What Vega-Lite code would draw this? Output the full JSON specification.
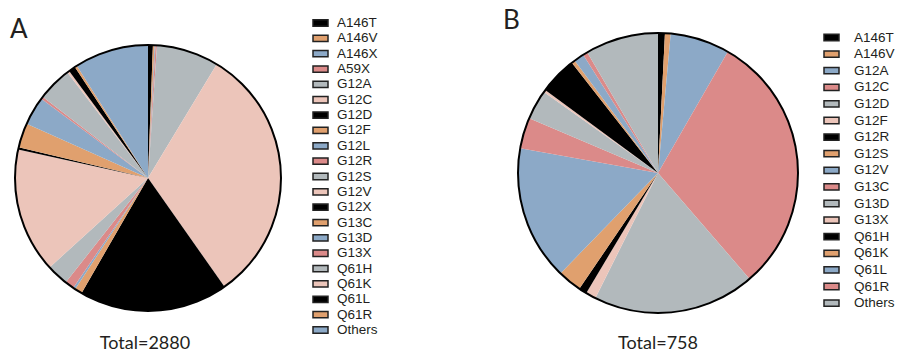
{
  "$schema": "https://vega.github.io/schema/vega-lite/v6.json",
  "padding": {"left": 10, "top": 8, "right": 0, "bottom": 0},
  "bounds": "flush",
  "spacing": 503,
  "config": {"view": {"stroke": null}, "font": "Liberation Sans"},
  "resolve": {"scale": {"color": "independent", "theta": "independent"}, "legend": {"color": "independent"}},
  "datasets": {
    "panelA": [
      {"mutation": "A146T", "count": 17},
      {"mutation": "A146V", "count": 6},
      {"mutation": "A146X", "count": 3},
      {"mutation": "A59X", "count": 5},
      {"mutation": "G12A", "count": 218},
      {"mutation": "G12C", "count": 910},
      {"mutation": "G12D", "count": 521},
      {"mutation": "G12F", "count": 26},
      {"mutation": "G12L", "count": 8},
      {"mutation": "G12R", "count": 32},
      {"mutation": "G12S", "count": 76},
      {"mutation": "G12V", "count": 437},
      {"mutation": "G12X", "count": 8},
      {"mutation": "G13C", "count": 86},
      {"mutation": "G13D", "count": 100},
      {"mutation": "G13X", "count": 8},
      {"mutation": "Q61H", "count": 120},
      {"mutation": "Q61K", "count": 8},
      {"mutation": "Q61L", "count": 24},
      {"mutation": "Q61R", "count": 8},
      {"mutation": "Others", "count": 259}
    ],
    "panelB": [
      {"mutation": "A146T", "count": 6},
      {"mutation": "A146V", "count": 5},
      {"mutation": "G12A", "count": 52},
      {"mutation": "G12C", "count": 230},
      {"mutation": "G12D", "count": 142},
      {"mutation": "G12F", "count": 9},
      {"mutation": "G12R", "count": 7},
      {"mutation": "G12S", "count": 21},
      {"mutation": "G12V", "count": 118},
      {"mutation": "G13C", "count": 27},
      {"mutation": "G13D", "count": 26},
      {"mutation": "G13X", "count": 2},
      {"mutation": "Q61H", "count": 33},
      {"mutation": "Q61K", "count": 3},
      {"mutation": "Q61L", "count": 9},
      {"mutation": "Q61R", "count": 4},
      {"mutation": "Others", "count": 64}
    ]
  },
  "hconcat": [
    {
      "title": {"text": "A", "anchor": "start", "frame": "group", "orient": "top", "baseline": "alphabetic", "offset": -54, "dx": -5, "fontSize": 26, "fontWeight": "normal", "font": "Lato", "color": "#231f20"},
      "bounds": "flush",
      "vconcat": [
        {
          "width": 266,
          "height": 336,
          "title": {"text": "Total=2880", "orient": "bottom", "anchor": "middle", "frame": "group", "baseline": "top", "offset": -11, "dx": -3, "fontSize": 18, "fontWeight": "normal", "font": "Lato", "color": "#231f20"},
          "layer": [
            {
              "data": {"name": "panelA"},
              "transform": [{"window": [{"op": "row_number", "as": "i"}]}],
              "mark": {"type": "arc"},
              "encoding": {
                "theta": {"field": "count", "type": "quantitative", "stack": true},
                "order": {"field": "i", "type": "quantitative"},
                "color": {
                  "field": "mutation", "type": "nominal", "sort": null,
                  "scale": {
                    "domain": ["A146T","A146V","A146X","A59X","G12A","G12C","G12D","G12F","G12L","G12R","G12S","G12V","G12X","G13C","G13D","G13X","Q61H","Q61K","Q61L","Q61R","Others"],
                    "range": ["#000000","#E0A06E","#8CA9C7","#DB8A89","#B2B9BC","#ECC5BA","#000000","#E0A06E","#8CA9C7","#DB8A89","#B2B9BC","#ECC5BA","#000000","#E0A06E","#8CA9C7","#DB8A89","#B2B9BC","#ECC5BA","#000000","#E0A06E","#8CA9C7"]
                  },
                  "legend": {
                    "orient": "none", "legendX": 297, "legendY": 4.5, "title": null,
                    "symbolType": "M-1,-0.42H1V0.42H-1Z", "symbolSize": 225,
                    "symbolStrokeColor": "#222222", "symbolStrokeWidth": 1.5, "symbolOpacity": 1,
                    "labelFontSize": 13.5, "labelFont": "Liberation Sans", "labelColor": "#231f20",
                    "labelOffset": 8, "rowPadding": 0.35, "padding": 0
                  }
                }
              }
            },
            {
              "data": {"values": [{}]},
              "mark": {"type": "arc", "theta": 0, "theta2": 6.2832, "filled": false, "stroke": "#000000", "strokeWidth": 2},
              "encoding": {}
            }
          ]
        }
      ]
    },
    {
      "title": {"text": "B", "anchor": "start", "frame": "group", "orient": "top", "baseline": "alphabetic", "offset": -45, "dx": -15, "fontSize": 26, "fontWeight": "normal", "font": "Lato", "color": "#231f20"},
      "bounds": "flush",
      "vconcat": [
        {
          "width": 280,
          "height": 326,
          "title": {"text": "Total=758", "orient": "bottom", "anchor": "middle", "frame": "group", "baseline": "top", "offset": -1, "fontSize": 18, "fontWeight": "normal", "font": "Lato", "color": "#231f20"},
          "layer": [
            {
              "data": {"name": "panelB"},
              "transform": [{"window": [{"op": "row_number", "as": "i"}]}],
              "mark": {"type": "arc"},
              "encoding": {
                "theta": {"field": "count", "type": "quantitative", "stack": true},
                "order": {"field": "i", "type": "quantitative"},
                "color": {
                  "field": "mutation", "type": "nominal", "sort": null,
                  "scale": {
                    "domain": ["A146T","A146V","G12A","G12C","G12D","G12F","G12R","G12S","G12V","G13C","G13D","G13X","Q61H","Q61K","Q61L","Q61R","Others"],
                    "range": ["#000000","#E0A06E","#8CA9C7","#DB8A89","#B2B9BC","#ECC5BA","#000000","#E0A06E","#8CA9C7","#DB8A89","#B2B9BC","#ECC5BA","#000000","#E0A06E","#8CA9C7","#DB8A89","#B2B9BC"]
                  },
                  "legend": {
                    "orient": "none", "legendX": 305, "legendY": 19, "title": null,
                    "symbolType": "M-1,-0.42H1V0.42H-1Z", "symbolSize": 225,
                    "symbolStrokeColor": "#222222", "symbolStrokeWidth": 1.5, "symbolOpacity": 1,
                    "labelFontSize": 13.5, "labelFont": "Liberation Sans", "labelColor": "#231f20",
                    "labelOffset": 14, "rowPadding": 1.6, "padding": 0
                  }
                }
              }
            },
            {
              "data": {"values": [{}]},
              "mark": {"type": "arc", "theta": 0, "theta2": 6.2832, "filled": false, "stroke": "#000000", "strokeWidth": 2},
              "encoding": {}
            }
          ]
        }
      ]
    }
  ]
}
